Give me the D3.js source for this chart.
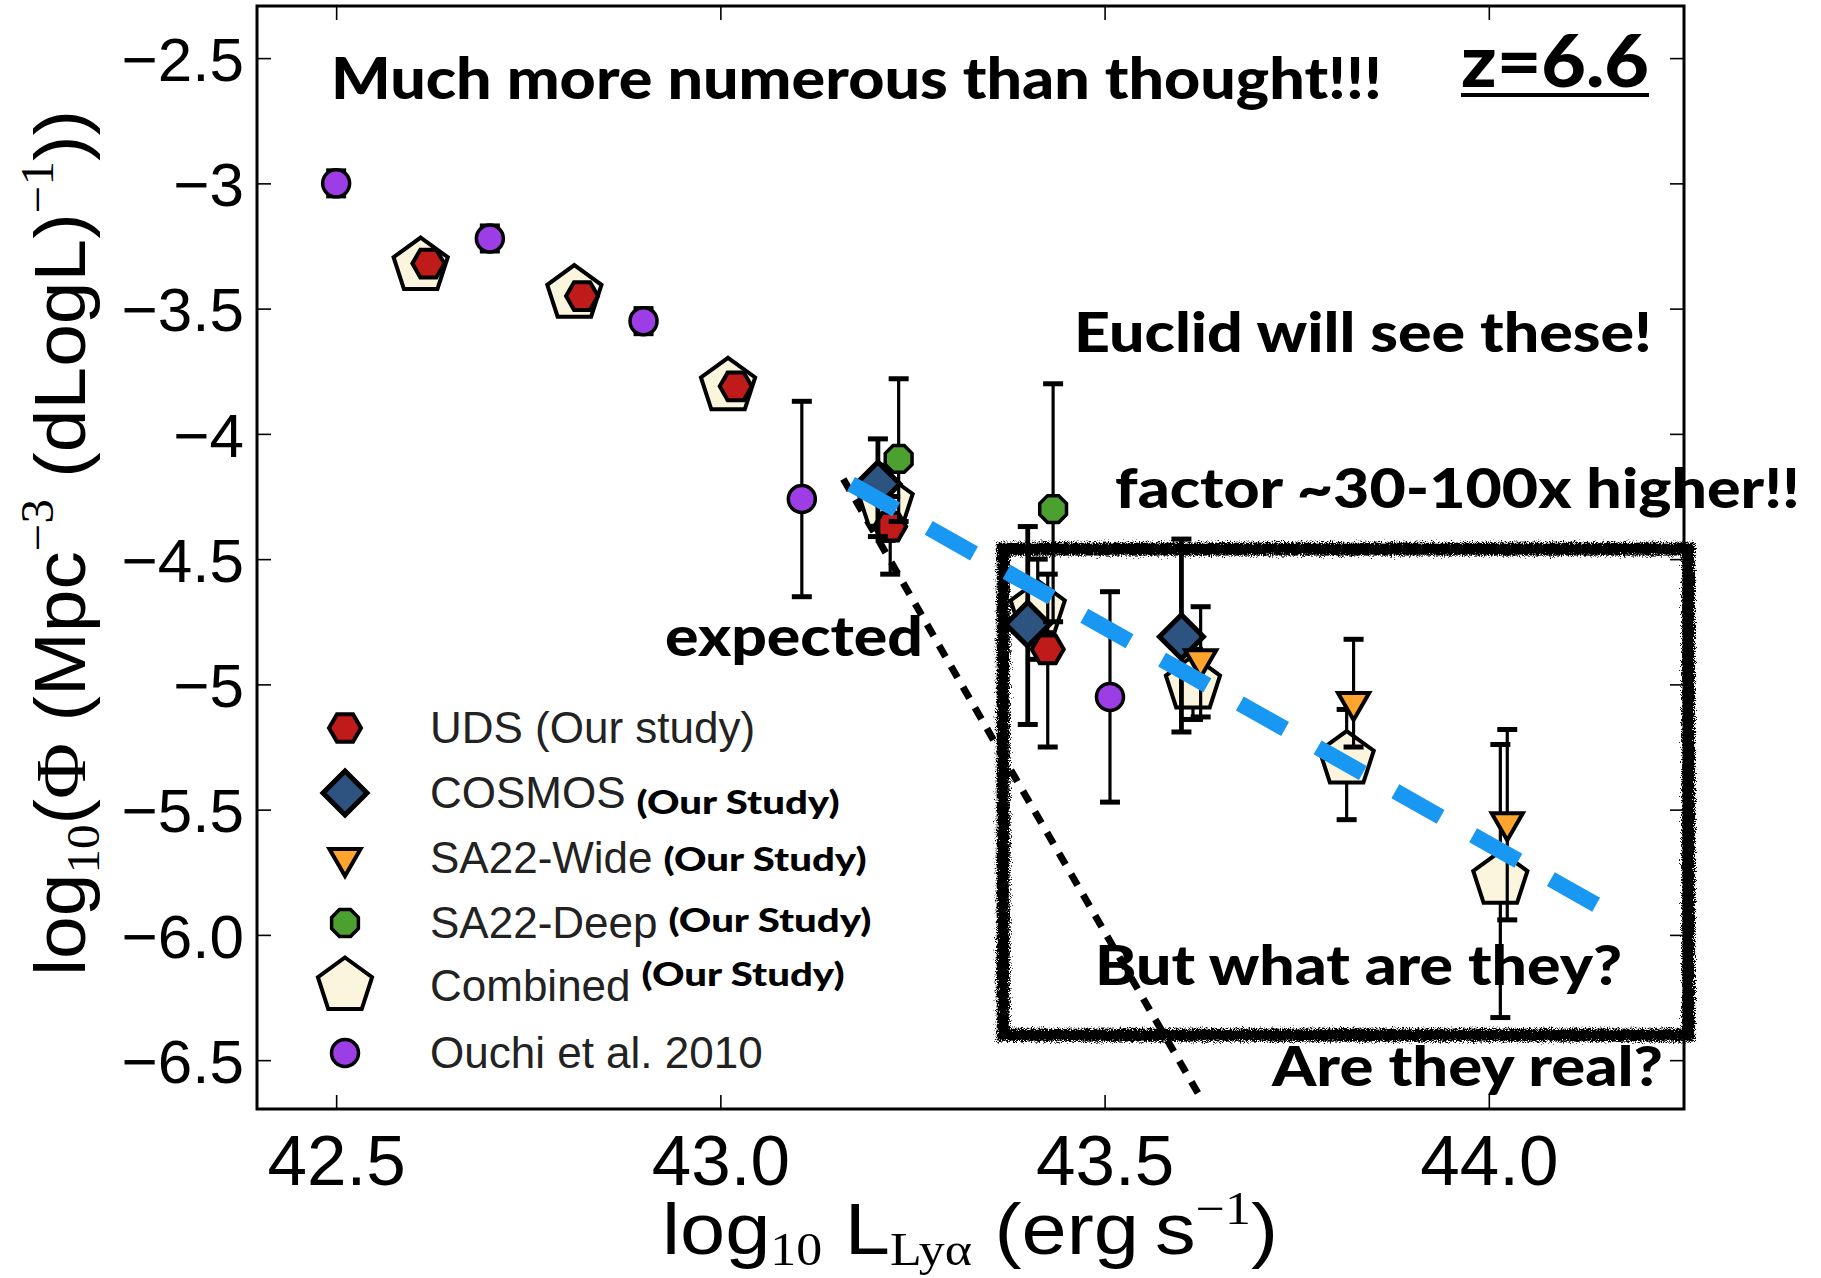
<!DOCTYPE html>
<meta charset="utf-8">
<script src="https://d3js.org/d3.v7.min.js"></script>
<style>
  body { margin: 0; background: #fff; }
</style>
<div id="my_dataviz"></div>
<script>

// ---- data ----
var xTickVals = [42.5, 43.0, 43.5, 44.0];
var xTickText = ["42.5", "43.0", "43.5", "44.0"];
var yTickVals = [-2.5, -3, -3.5, -4, -4.5, -5, -5.5, -6, -6.5];
var yTickText = ["\u22122.5", "\u22123", "\u22123.5", "\u22124", "\u22124.5", "\u22125", "\u22125.5", "\u22126.0", "\u22126.5"];

var combinedL   = [42.61, 42.81, 43.01, 43.215, 43.413, 43.615, 43.815, 44.015];
var combinedPhi = [-3.33, -3.44, -3.81, -4.275, -4.70, -5.00, -5.30, -5.78];
var combinedUp  = [0.04, 0.04, 0.05, 0.15, 0.20, 0.14, 0.20, 0.54];
var combinedDn  = [0.04, 0.04, 0.05, 0.15, 0.20, 0.14, 0.24, 0.55];

var udsL   = [42.62, 42.82, 43.02, 43.221, 43.426];
var udsPhi = [-3.32, -3.45, -3.81, -4.37, -4.86];
var udsUp  = [0.03, 0.03, 0.05, 0.12, 0.30];
var udsDn  = [0.03, 0.03, 0.05, 0.19, 0.39];

var cosmosL   = [43.205, 43.40, 43.60];
var cosmosPhi = [-4.20, -4.76, -4.81];
var cosmosUp  = [0.18, 0.39, 0.39];
var cosmosDn  = [0.21, 0.40, 0.38];

var wideL   = [43.625, 43.824, 44.024];
var widePhi = [-4.90, -5.07, -5.55];
var wideUp  = [0.21, 0.25, 0.37];
var wideDn  = [0.23, 0.18, 0.39];

var deepL   = [43.232, 43.433];
var deepPhi = [-4.10, -4.30];
var deepUp  = [0.32, 0.50];
var deepDn  = [0.25, 0.45];

var ouchiL   = [42.50, 42.70, 42.90, 43.106, 43.507];
var ouchiPhi = [-3.00, -3.22, -3.55, -4.26, -5.05];
var ouchiUp  = [0.05, 0.05, 0.05, 0.39, 0.42];
var ouchiDn  = [0.05, 0.05, 0.05, 0.39, 0.42];

// "expected" LF and the dashed blue fit
var expectedL   = [43.16, 43.37, 43.625];
var expectedPhi = [-4.18, -5.30, -6.65];
var fitL   = [43.17, 44.14];
var fitPhi = [-4.20, -5.88];

// highlighted region (data units)
var boxL   = [43.368, 44.26];
var boxPhi = [-4.46, -6.40];

// ---- layout ----
var margin = {top: 6, left: 257},
    width = 1427,
    height = 1103;

var svg = d3.select("#my_dataviz")
  .append("svg")
    .attr("width", 1821)
    .attr("height", 1278);

var defs = svg.append("defs");
var f = defs.append("filter").attr("id", "rough")
  .attr("x", "-5%").attr("y", "-5%").attr("width", "110%").attr("height", "110%");
f.append("feTurbulence").attr("type", "fractalNoise").attr("baseFrequency", "1.1")
  .attr("numOctaves", 2).attr("seed", 3).attr("result", "noise");
f.append("feDisplacementMap").attr("in", "SourceGraphic").attr("in2", "noise")
  .attr("scale", 10).attr("xChannelSelector", "R").attr("yChannelSelector", "G");

var g = svg.append("g")
  .attr("transform", "translate(" + margin.left + "," + margin.top + ")");

var x = d3.scaleLinear().domain([42.397, 44.254]).range([0, width]);
var y = d3.scaleLinear().domain([-2.292, -6.695]).range([0, height]);

// axes with inward ticks on all sides
var xAxis = g.append("g")
  .attr("transform", "translate(0," + height + ")")
  .call(d3.axisBottom(x).tickValues(xTickVals).tickSize(-14).tickPadding(26)
    .tickFormat(function(d, i) { return xTickText[i]; }));
var yAxis = g.append("g")
  .call(d3.axisLeft(y).tickValues(yTickVals).tickSize(-14).tickPadding(13)
    .tickFormat(function(d, i) { return yTickText[i]; }));
g.append("g").call(d3.axisTop(x).tickValues(xTickVals).tickSize(-14).tickFormat(""));
g.append("g").attr("transform", "translate(" + width + ",0)")
  .call(d3.axisRight(y).tickValues(yTickVals).tickSize(-14).tickFormat(""));

g.selectAll(".domain").remove();
g.selectAll(".tick line").attr("stroke", "#000").attr("stroke-width", 1.6);
xAxis.selectAll("text")
  .style("font-family", "'Liberation Sans', Arial, sans-serif")
  .style("font-size", "71px").attr("fill", "#000").attr("dy", "0.71em");
yAxis.selectAll("text")
  .style("font-family", "'Liberation Sans', Arial, sans-serif")
  .style("font-size", "62px").attr("fill", "#000").attr("dy", "0.36em");

// ---- marker shapes ----
function poly(n, r, rot) {
  var pts = d3.range(n).map(function(i) {
    var a = rot + i * 2 * Math.PI / n;
    return [r * Math.cos(a), r * Math.sin(a)];
  });
  return "M" + pts.join("L") + "Z";
}
var shapes = {
  pentagon: poly(5, 28.5, -Math.PI / 2),
  hexagon: poly(6, 16, 0),
  diamond: poly(4, 22, 0),
  triDown: poly(3, 18, Math.PI / 2),
  octagon: poly(8, 14.5, Math.PI / 8),
  circle: d3.symbol().type(d3.symbolCircle).size(Math.PI * 13.5 * 13.5)()
};

var series = [
  {name: "Combined", L: combinedL, phi: combinedPhi, up: combinedUp, dn: combinedDn,
   shape: "pentagon", fill: "#faf5dc", sw: 4, ew: 3.2},
  {name: "UDS", L: udsL, phi: udsPhi, up: udsUp, dn: udsDn,
   shape: "hexagon", fill: "#c01b1b", sw: 4, ew: 3.2},
  {name: "COSMOS", L: cosmosL, phi: cosmosPhi, up: cosmosUp, dn: cosmosDn,
   shape: "diamond", fill: "#2d5480", sw: 5, ew: 4.8},
  {name: "SA22-Wide", L: wideL, phi: widePhi, up: wideUp, dn: wideDn,
   shape: "triDown", fill: "#ffa52e", sw: 4, ew: 3.2},
  {name: "SA22-Deep", L: deepL, phi: deepPhi, up: deepUp, dn: deepDn,
   shape: "octagon", fill: "#4ba030", sw: 3.5, ew: 3.2},
  {name: "Ouchi", L: ouchiL, phi: ouchiPhi, up: ouchiUp, dn: ouchiDn,
   shape: "circle", fill: "#9d3de6", sw: 3.5, ew: 3.2}
];

// expected (dotted black)
var line = d3.line()
  .x(function(d) { return x(d[0]); })
  .y(function(d) { return y(d[1]); });

g.append("path")
  .datum(d3.zip(expectedL, expectedPhi))
  .attr("d", line)
  .attr("fill", "none")
  .attr("stroke", "#000")
  .attr("stroke-width", 7)
  .attr("stroke-dasharray", "13,11");

// highlighted rough box
[[10, 0], [3, -5], [3, 5]].forEach(function(p) {
  g.append("rect")
    .attr("x", x(boxL[0]) + p[1])
    .attr("y", y(boxPhi[0]) + p[1])
    .attr("width", x(boxL[1]) - x(boxL[0]) - 2 * p[1])
    .attr("height", y(boxPhi[1]) - y(boxPhi[0]) - 2 * p[1])
    .attr("fill", "none")
    .attr("stroke", "#000")
    .attr("stroke-width", p[0])
    .attr("filter", "url(#rough)");
});

// points with error bars
series.forEach(function(s) {
  var pts = d3.zip(s.L, s.phi, s.up, s.dn);
  var sg = g.append("g");
  var eb = sg.selectAll(".eb").data(pts).enter().append("g")
    .attr("stroke", "#000").attr("stroke-width", s.ew);
  eb.append("line")
    .attr("x1", function(d) { return x(d[0]); })
    .attr("x2", function(d) { return x(d[0]); })
    .attr("y1", function(d) { return y(d[1] + d[2]); })
    .attr("y2", function(d) { return y(d[1] - d[3]); });
  [2, 3].forEach(function(k) {
    eb.append("line")
      .attr("stroke-width", 5)
      .attr("x1", function(d) { return x(d[0]) - 10; })
      .attr("x2", function(d) { return x(d[0]) + 10; })
      .attr("y1", function(d) { return y(k === 2 ? d[1] + d[2] : d[1] - d[3]); })
      .attr("y2", function(d) { return y(k === 2 ? d[1] + d[2] : d[1] - d[3]); });
  });
  sg.selectAll(".mk").data(pts).enter().append("path")
    .attr("d", shapes[s.shape])
    .attr("transform", function(d) { return "translate(" + x(d[0]) + "," + y(d[1]) + ")"; })
    .attr("fill", s.fill)
    .attr("stroke", "#000")
    .attr("stroke-width", s.sw)
    .attr("stroke-linejoin", "miter");
});

// dashed blue fit on top (pattern chosen so the last dash ends at the line end)
g.append("path")
  .datum(d3.zip(fitL, fitPhi))
  .attr("d", line)
  .attr("fill", "none")
  .attr("stroke", "#1897f3")
  .attr("stroke-width", 16)
  .attr("stroke-dasharray", "52,37.3");

// frame
g.append("rect")
  .attr("width", width).attr("height", height)
  .attr("fill", "none").attr("stroke", "#000").attr("stroke-width", 3);

// ---- legend ----
var legendRows = [
  {label: "UDS (Our study)", extra: "", dy: 0, shape: "hexagon", s: 1},
  {label: "COSMOS", extra: "(Our Study)", dy: 6, shape: "diamond", s: 2},
  {label: "SA22-Wide", extra: "(Our Study)", dy: -2, shape: "triDown", s: 3},
  {label: "SA22-Deep", extra: "(Our Study)", dy: -6, shape: "octagon", s: 4},
  {label: "Combined", extra: "(Our Study)", dy: -15, shape: "pentagon", s: 0},
  {label: "Ouchi et al. 2010", extra: "", dy: 0, shape: "circle", s: 5}
];
var legendY = [728, 793, 858, 923, 986, 1053];

var lg = svg.append("g");
legendRows.forEach(function(r, i) {
  var s = series[r.s];
  lg.append("path")
    .attr("d", shapes[r.shape])
    .attr("transform", "translate(345," + legendY[i] + ")")
    .attr("fill", s.fill).attr("stroke", "#000").attr("stroke-width", s.sw);
  var t = lg.append("text")
    .attr("x", 430).attr("y", legendY[i] + 15)
    .style("font-family", "'Liberation Sans', Arial, sans-serif")
    .style("font-size", "44px").attr("fill", "#222")
    .text(r.label);
  if (r.extra) {
    var w = t.node().getComputedTextLength();
    lg.append("text")
      .attr("x", 430 + w + 11).attr("y", legendY[i] + 15 + r.dy)
      .attr("textLength", 203).attr("lengthAdjust", "spacingAndGlyphs")
      .style("font-family", "Lato, 'Open Sans', sans-serif")
      .style("font-weight", 900).style("font-size", "33px").attr("fill", "#000")
      .text(r.extra);
  }
});

// ---- axis titles ----
var serif = "'Liberation Serif', 'DejaVu Serif', serif";
var yl = svg.append("text")
  .attr("transform", "translate(85,543) rotate(-90)")
  .attr("text-anchor", "middle")
  .attr("textLength", 866).attr("lengthAdjust", "spacingAndGlyphs")
  .style("font-family", "'Liberation Sans', Arial, sans-serif")
  .style("font-size", "72px").attr("fill", "#000");
yl.append("tspan").text("log");
yl.append("tspan").attr("dy", 14).style("font-family", serif).style("font-size", "46px").text("10");
yl.append("tspan").attr("dy", -14).text("(");
yl.append("tspan").style("font-family", serif).text("\u03A6");
yl.append("tspan").text(" (Mpc");
yl.append("tspan").attr("dy", -32).style("font-family", serif).style("font-size", "46px").text("\u22123");
yl.append("tspan").attr("dy", 32).text(" (dLogL)");
yl.append("tspan").attr("dy", -32).style("font-family", serif).style("font-size", "46px").text("\u22121");
yl.append("tspan").attr("dy", 32).text("))");

var xl = svg.append("text")
  .attr("x", 970).attr("y", 1254)
  .attr("text-anchor", "middle")
  .attr("textLength", 616).attr("lengthAdjust", "spacingAndGlyphs")
  .style("font-family", "'Liberation Sans', Arial, sans-serif")
  .style("font-size", "72px").attr("fill", "#000");
xl.append("tspan").text("log");
xl.append("tspan").attr("dy", 11).style("font-family", serif).style("font-size", "46px").text("10");
xl.append("tspan").attr("dy", -11).text(" L");
xl.append("tspan").attr("dy", 11).style("font-family", serif).style("font-size", "46px").text("Ly\u03B1");
xl.append("tspan").attr("dy", -11).text(" (erg\u2009s");
xl.append("tspan").attr("dy", -30).style("font-family", serif).style("font-size", "46px").text("\u22121");
xl.append("tspan").attr("dy", 30).text(")");

// ---- annotations ----
var notes = [
  {t: "Much more numerous than thought!!!", x: 331, y: 99, size: 57, len: 1051},
  {t: "Euclid will see these!", x: 1074, y: 352, size: 55, len: 578},
  {t: "factor ~30-100x higher!!", x: 1115, y: 508, size: 55, len: 685},
  {t: "expected", x: 665, y: 656, size: 55, len: 258},
  {t: "But what are they?", x: 1095, y: 985, size: 55, len: 527},
  {t: "Are they real?", x: 1272, y: 1086, size: 55, len: 391},
  {t: "z=6.6", x: 1461, y: 87, size: 72, len: 188}
];
notes.forEach(function(n) {
  svg.append("text")
    .attr("x", n.x).attr("y", n.y)
    .attr("textLength", n.len).attr("lengthAdjust", "spacingAndGlyphs")
    .style("font-family", "Lato, 'Open Sans', sans-serif")
    .style("font-weight", 900).style("font-size", n.size + "px")
    .attr("fill", "#000")
    .text(n.t);
});
// underline of z=6.6
svg.append("line")
  .attr("x1", 1461).attr("x2", 1649).attr("y1", 95).attr("y2", 95)
  .attr("stroke", "#000").attr("stroke-width", 4);

</script>
